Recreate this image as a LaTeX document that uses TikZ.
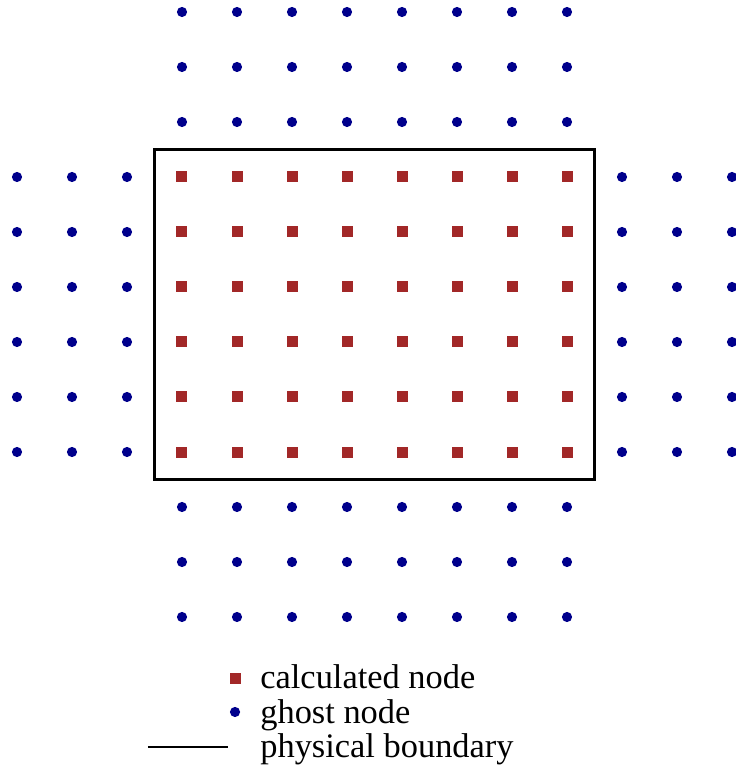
\documentclass[tikz,border=0pt]{standalone}
\usepackage{fontspec}
\setmainfont{Liberation Serif}
\usepackage{tikz}
\usetikzlibrary{positioning}
\definecolor{calcred}{RGB}{162,40,40}
\definecolor{ghostblue}{RGB}{0,0,140}
\tikzset{
  calcnode/.style={
    rectangle,
    fill=calcred,
    minimum size=2mm,
    inner sep=0pt
  },
  ghostnode/.style={
    circle,
    fill=ghostblue,
    minimum size=1.85mm,
    inner sep=0pt
  },
  boundary/.style={
    draw=black,
    line width=1.4pt
  },
  legendtext/.style={
    anchor=base west,
    inner sep=0pt,
    font=\fontsize{17.8}{21}\selectfont
  }
}

\begin{document}
\begin{tikzpicture}
  % fixed frame, same margins as the original
  \useasboundingbox (-0.309,0.218) rectangle (13.055,-13.8);

  % ghost nodes above and below the domain
  \foreach \i in {3,...,10} {
    \foreach \j in {0,1,2,9,10,11} {
      \node[ghostnode] (g-\i-\j) at (\i,-\j) {};
    }
  }
  % ghost nodes left and right of the domain
  \foreach \i in {0,1,2,11,12,13} {
    \foreach \j in {3,...,8} {
      \node[ghostnode] (g-\i-\j) at (\i,-\j) {};
    }
  }

  % calculated nodes
  \foreach \i in {3,...,10} {
    \foreach \j in {3,...,8} {
      \node[calcnode] (c-\i-\j) at (\i,-\j) {};
    }
  }

  % physical boundary
  \draw[boundary] (2.5,-2.5) rectangle (10.5,-8.5);

  % legend
  \node[calcnode] (lg-calc) at (3.964,-12.127) {};
  \node[ghostnode] (lg-ghost) at (3.964,-12.727) {};
  \coordinate (lg-bnd-a) at (2.38,-13.364);
  \coordinate (lg-bnd-b) at (3.836,-13.364);
  \draw[boundary, line width=1pt] (lg-bnd-a) -- (lg-bnd-b);
  \node[legendtext] (lt-calc) at (4.418,-12.3) {calculated node};
  \node[legendtext] (lt-ghost) at (4.418,-12.94) {ghost node};
  \node[legendtext] (lt-bnd) at (4.418,-13.56) {physical boundary};
\end{tikzpicture}
\end{document}
